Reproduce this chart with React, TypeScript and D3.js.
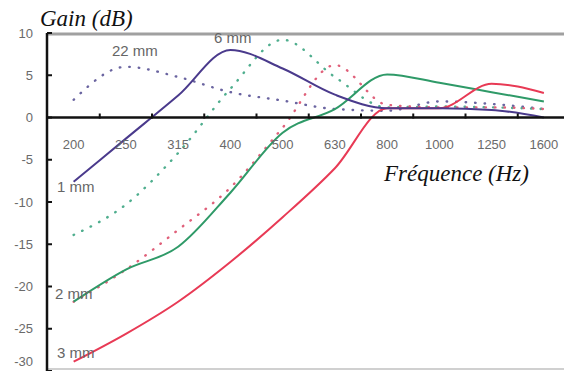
import React, { useRef, useEffect } from "react";
import * as d3 from "d3";

const frequencies = ["200", "250", "315", "400", "500", "630", "800", "1000", "1250", "1600"];
const yTicks = [10, 5, 0, -5, -10, -15, -20, -25, -30];

// gain (dB) per frequency band
const mm1 = [-7.6, -2.5, 2.6, 8.0, 5.8, 2.7, 1.1, 1.1, 0.9, 0.0];
const mm2 = [-21.8, -18.0, -15.3, -8.9, -1.8, 1.0, 5.1, 4.1, 3.0, 1.9];
const mm3 = [-28.9, -25.6, -21.8, -17.1, -11.8, -6.0, 1.1, 1.1, 4.0, 2.9];
const mm6 = [-13.9, -10.3, -4.2, 3.4, 9.2, 4.8, 1.2, 1.3, 1.2, 1.0];
const mm22 = [2.1, 6.0, 4.8, 3.0, 2.0, 1.0, 0.8, 1.9, 1.6, 1.0];
const mm3dot = [-21.8, -18.0, -13.3, -8.3, -1.2, 6.2, 1.5, 1.2, 1.2, 1.0];

const series = [
  { values: mm22, color: "#6a64a0", dotted: true },
  { values: mm6, color: "#4fae8e", dotted: true },
  { values: mm3dot, color: "#e0607a", dotted: true },
  { values: mm2, color: "#2f9a68", dotted: false },
  { values: mm3, color: "#e83a55", dotted: false },
  { values: mm1, color: "#4a3a8c", dotted: false },
];

const curveLabels = [
  { text: "22 mm", x: 112, y: 56 },
  { text: "6 mm", x: 214, y: 43 },
  { text: "1 mm", x: 57, y: 192 },
  { text: "2 mm", x: 55, y: 299 },
  { text: "3 mm", x: 57, y: 358 },
];

const W = 564;
const H = 371;

const App = () => {
  const ref = useRef<SVGSVGElement>(null);

  useEffect(() => {
    const svg = d3.select(ref.current);
    svg.selectAll("*").remove();

    const x = d3.scaleBand().domain(frequencies).range([47.5, 570]);
    const y = d3.scaleLinear().domain([-30, 10]).range([371, 33]);
    const cx = (f: string) => (x(f) as number) + x.bandwidth() / 2;

    // frame
    svg.append("line")
      .attr("x1", 47).attr("x2", W).attr("y1", 34).attr("y2", 34)
      .attr("stroke", "#a0a0a0").attr("stroke-width", 3);
    svg.append("line")
      .attr("x1", 47).attr("x2", W).attr("y1", 369).attr("y2", 369)
      .attr("stroke", "#d0d0d0").attr("stroke-width", 2);

    const lineGen = d3.line<number>()
      .x((_, i) => cx(frequencies[i]))
      .y((d) => y(d))
      .curve(d3.curveMonotoneX);

    series.forEach((s) => {
      svg.append("path")
        .attr("d", lineGen(s.values) as string)
        .attr("fill", "none")
        .attr("stroke", s.color)
        .attr("stroke-width", s.dotted ? 2.4 : 2)
        .attr("stroke-linecap", s.dotted ? "round" : "butt")
        .attr("stroke-dasharray", s.dotted ? "0.5 9" : null);
    });

    // y axis
    svg.append("line")
      .attr("x1", 47).attr("x2", 47).attr("y1", 33).attr("y2", H)
      .attr("stroke", "#111").attr("stroke-width", 2.5);
    yTicks.forEach((t) => {
      svg.append("line")
        .attr("x1", 47).attr("x2", 52).attr("y1", y(t)).attr("y2", y(t))
        .attr("stroke", "#111").attr("stroke-width", 2);
      svg.append("text")
        .attr("x", 33).attr("y", Math.min(y(t) + 4.5, 366))
        .attr("text-anchor", "end")
        .attr("font-family", "Arial, 'Liberation Sans', sans-serif")
        .attr("font-size", 13)
        .attr("fill", "#6a6a6a")
        .text(t);
    });

    // x axis along 0 dB
    const y0 = y(0);
    svg.append("line")
      .attr("x1", 47).attr("x2", W).attr("y1", y0).attr("y2", y0)
      .attr("stroke", "#111").attr("stroke-width", 2.5);
    frequencies.slice(1).forEach((f) => {
      const bx = x(f) as number;
      svg.append("line")
        .attr("x1", bx).attr("x2", bx).attr("y1", y0 - 4).attr("y2", y0 + 1)
        .attr("stroke", "#111").attr("stroke-width", 2);
    });
    frequencies.forEach((f) => {
      svg.append("text")
        .attr("x", cx(f)).attr("y", y0 + 31)
        .attr("text-anchor", "middle")
        .attr("font-family", "Arial, 'Liberation Sans', sans-serif")
        .attr("font-size", 13)
        .attr("fill", "#6a6a6a")
        .text(f);
    });

    curveLabels.forEach((l) => {
      svg.append("text")
        .attr("x", l.x).attr("y", l.y)
        .attr("font-family", "Arial, 'Liberation Sans', sans-serif")
        .attr("font-size", 15)
        .attr("fill", "#666")
        .text(l.text);
    });

    // axis titles
    svg.append("text")
      .attr("x", 40).attr("y", 26)
      .attr("font-family", "'Times New Roman', 'Liberation Serif', serif")
      .attr("font-style", "italic")
      .attr("font-size", 23)
      .attr("fill", "#111")
      .text("Gain (dB)");
    svg.append("text")
      .attr("x", 384).attr("y", 181)
      .attr("font-family", "'Times New Roman', 'Liberation Serif', serif")
      .attr("font-style", "italic")
      .attr("font-size", 23)
      .attr("fill", "#111")
      .text("Fréquence (Hz)");
  }, []);

  return (
    <div style={{ position: "absolute", left: 0, top: 0, width: W, height: H, background: "#fff" }}>
      <svg ref={ref} width={W} height={H} style={{ display: "block" }}></svg>
    </div>
  );
};

export default App;
